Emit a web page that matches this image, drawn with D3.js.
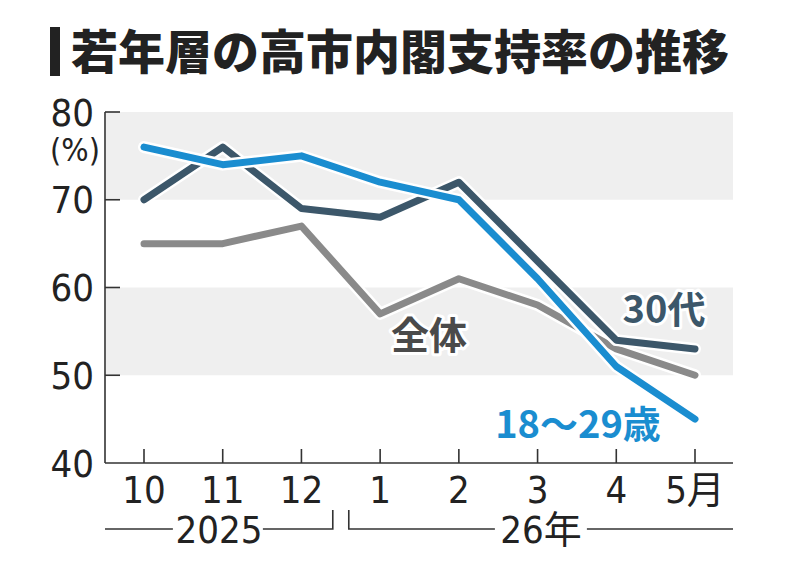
<!DOCTYPE html>
<html>
<head>
<meta charset="utf-8">
<script src="https://cdn.jsdelivr.net/npm/d3@7"></script>
<style>
  body { margin: 0; background: #fff; }
  .num { font-family: "Liberation Sans Narrow", "DejaVu Sans Condensed", "Noto Sans CJK JP", sans-serif; fill: #222; }
  .lbl { font-family: "Noto Sans CJK JP", sans-serif; font-weight: 700; paint-order: stroke; stroke: #fff; stroke-width: 6px; stroke-linejoin: round; }
</style>
</head>
<body>
<div id="chart"></div>
<script>
// -- data --
var months = ["10", "11", "12", "1", "2", "3", "4", "5"];
var monthLabels = ["10", "11", "12", "1", "2", "3", "4", "5月"];
var zentai = [65, 65, 67, 57, 61, 58, 53, 50];
var age30 = [70, 76, 69, 68, 72, 63, 54, 53];
var age18 = [76, 74, 75, 72, 70, 61, 51, 45];
var yTicks = [80, 70, 60, 50, 40];
var bands = [[70, 80], [50, 60]];
var titleText = "若年層の高市内閣支持率の推移";

var svg = d3.select("#chart").append("svg")
  .attr("width", 800).attr("height", 567);

// == title ==
svg.append("rect").attr("x", 50).attr("y", 27).attr("width", 10).attr("height", 49).attr("fill", "#222");
svg.append("text")
  .text(titleText)
  .attr("x", 71).attr("y", 69)
  .style("font-family", "'Noto Sans CJK JP', sans-serif")
  .style("font-weight", 900)
  .style("font-size", "47px")
  .attr("fill", "#222");

// == scales ==
var x = d3.scalePoint().domain(months).range([144, 695]);
var y = d3.scaleLinear().domain([40, 80]).range([463, 112]);
var axisLeft = 105, axisRight = 733;

// -- gray bands --
svg.selectAll("rect.band").data(bands).enter().append("rect")
  .attr("class", "band")
  .attr("x", axisLeft + 1)
  .attr("y", function (d) { return y(d[1]); })
  .attr("width", axisRight - axisLeft - 1)
  .attr("height", function (d) { return y(d[0]) - y(d[1]); })
  .attr("fill", "#efefef");

// == axes ==
var axisColor = "#333";
svg.append("line").attr("x1", axisLeft).attr("x2", axisLeft).attr("y1", y(80)).attr("y2", y(40))
  .attr("stroke", axisColor).attr("stroke-width", 1.6);
svg.append("line").attr("x1", axisLeft).attr("x2", axisRight).attr("y1", y(40)).attr("y2", y(40))
  .attr("stroke", axisColor).attr("stroke-width", 1.6);

svg.selectAll("line.ytick").data(yTicks.slice(0, 4)).enter().append("line")
  .attr("x1", axisLeft).attr("x2", axisLeft + 15)
  .attr("y1", function (d) { return y(d); }).attr("y2", function (d) { return y(d); })
  .attr("stroke", axisColor).attr("stroke-width", 1.6);

svg.selectAll("text.ylab").data(yTicks).enter().append("text")
  .attr("class", "num")
  .attr("x", 94)
  .attr("y", function (d) { return y(d); })
  .attr("dy", "0.36em")
  .attr("text-anchor", "end")
  .style("font-size", "38px")
  .text(function (d) { return d; });

svg.append("text").attr("class", "num")
  .attr("x", 75).attr("y", 149).attr("dy", "0.36em")
  .attr("text-anchor", "middle")
  .style("font-size", "32px")
  .text("(%)");

svg.selectAll("line.xtick").data(months).enter().append("line")
  .attr("x1", function (d) { return x(d); }).attr("x2", function (d) { return x(d); })
  .attr("y1", y(40)).attr("y2", y(40) - 14)
  .attr("stroke", axisColor).attr("stroke-width", 1.6);

svg.selectAll("text.xlab").data(months).enter().append("text")
  .attr("class", "num")
  .attr("x", function (d) { return x(d); })
  .attr("y", 489).attr("dy", "0.36em")
  .attr("text-anchor", "middle")
  .style("font-size", "38px")
  .text(function (d, i) { return monthLabels[i]; });

// -- year brackets --
var mid = (x("12") + x("1")) / 2;
var by = 529, btop = 510;
var yr = svg.append("g").attr("stroke", axisColor).attr("stroke-width", 1.6).attr("fill", "none");
var y1c = (axisLeft + mid - 8) / 2, y2c = (mid + 8 + axisRight) / 2;
yr.append("path").attr("d", "M" + axisLeft + "," + by + "H" + (y1c - 46));
yr.append("path").attr("d", "M" + (y1c + 44) + "," + by + "H" + (mid - 8) + "V" + btop);
yr.append("path").attr("d", "M" + (mid + 8) + "," + btop + "V" + by + "H" + (y2c - 46));
yr.append("path").attr("d", "M" + (y2c + 46) + "," + by + "H" + axisRight);
svg.append("text").attr("class", "num").attr("x", y1c).attr("y", by).attr("dy", "0.36em")
  .attr("text-anchor", "middle").style("font-size", "38px").text("2025");
svg.append("text").attr("class", "num").attr("x", y2c).attr("y", by).attr("dy", "0.36em")
  .attr("text-anchor", "middle").style("font-size", "38px").text("26年");

// == lines ==
var line = d3.line()
  .x(function (d, i) { return x(months[i]); })
  .y(function (d) { return y(d); });

var series = [
  { values: zentai, color: "#8a8a8a" },
  { values: age30, color: "#3c576a" },
  { values: age18, color: "#1a8dd0" }
];

series.forEach(function (s) {
  svg.append("path").attr("d", line(s.values))
    .attr("fill", "none").attr("stroke", "#fff").attr("stroke-width", 12)
    .attr("stroke-linecap", "round").attr("stroke-linejoin", "round");
  svg.append("path").attr("d", line(s.values))
    .attr("fill", "none").attr("stroke", s.color).attr("stroke-width", 7)
    .attr("stroke-linecap", "round").attr("stroke-linejoin", "round");
});

// -- series labels --
svg.append("text").attr("class", "lbl").attr("x", 664).attr("y", 309).attr("dy", "0.36em")
  .attr("text-anchor", "middle").style("font-size", "38px").attr("fill", "#3c576a").text("30代");
svg.append("text").attr("class", "lbl").attr("x", 429).attr("y", 335).attr("dy", "0.36em")
  .attr("text-anchor", "middle").style("font-size", "38px").attr("fill", "#4a4a4a").text("全体");
svg.append("text").attr("class", "lbl").attr("x", 578).attr("y", 424).attr("dy", "0.36em")
  .attr("text-anchor", "middle").style("font-size", "38px").attr("fill", "#1a8dd0").text("18～29歳");
</script>
</body>
</html>
